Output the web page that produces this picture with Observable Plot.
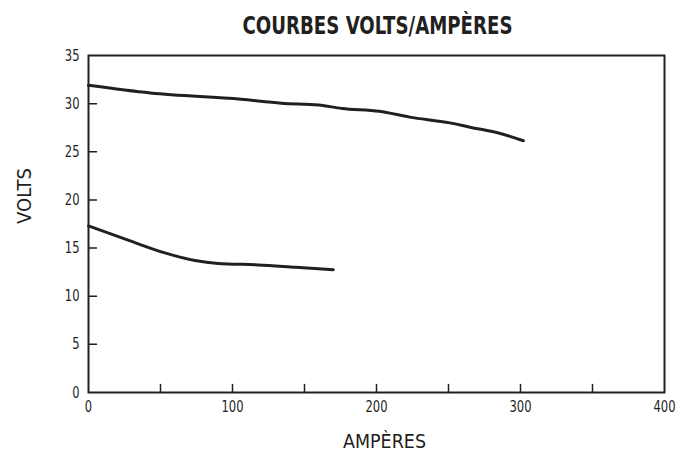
<!DOCTYPE html>
<html>
<head>
<meta charset="utf-8">
<script src="https://cdn.jsdelivr.net/npm/d3@7"></script>
<script src="https://cdn.jsdelivr.net/npm/@observablehq/plot@0.6"></script>
<style>
  html, body { margin: 0; padding: 0; background: #fff; }
  #chart svg { display: block; }
</style>
</head>
<body>
<div id="chart"></div>
<script>
const title = "COURBES VOLTS/AMPÈRES";
const xLabel = "AMPÈRES";
const yLabel = "VOLTS";

// Upper curve
const upperAmps  = [0, 43, 106, 134, 160, 176, 202, 223, 251, 265, 286, 302];
const upperVolts = [31.9, 31.1, 30.45, 30.05, 29.85, 29.5, 29.2, 28.6, 28.0, 27.55, 26.9, 26.15];

// Lower curve
const lowerAmps  = [0, 27, 53, 74, 90, 118, 144, 170];
const lowerVolts = [17.3, 15.85, 14.5, 13.7, 13.4, 13.25, 13.0, 12.75];

const xTickLabels = [0, 100, 200, 300, 400];
const xTickMarks = [50, 100, 150, 200, 250, 300, 350];
const yTickLabels = [0, 5, 10, 15, 20, 25, 30, 35];
const yTickMarks = [5, 10, 15, 20, 25, 30];

const upper = upperAmps.map((a, i) => ({amps: a, volts: upperVolts[i]}));
const lower = lowerAmps.map((a, i) => ({amps: a, volts: lowerVolts[i]}));

const ink = "#231f20";
const font = "'DejaVu Sans Condensed', 'Liberation Sans', sans-serif";

const up = {draw(ctx, l) { ctx.moveTo(0, 0); ctx.lineTo(0, -l); }};
const right = {draw(ctx, l) { ctx.moveTo(0, 0); ctx.lineTo(l, 0); }};

const chart = Plot.plot({
  width: 677,
  height: 451,
  marginTop: 55,
  marginBottom: 59,
  marginLeft: 88,
  marginRight: 13,
  style: {fontFamily: font, fontSize: "16px", color: ink, background: "#fff"},
  x: {domain: [0, 400], label: null},
  y: {domain: [0, 35], label: null},
  marks: [
    Plot.axisX({ticks: xTickLabels, tickSize: 0, tickPadding: 8, label: null, fontSize: 16, className: "xticks"}),
    Plot.axisY({ticks: yTickLabels, tickSize: 0, tickPadding: 9, label: null, fontSize: 16, className: "yticks"}),
    Plot.vector(xTickMarks, {x: d => d, y: 0, length: 8, shape: up, anchor: "start", stroke: ink, strokeWidth: 1.5}),
    Plot.vector(yTickMarks, {x: 0, y: d => d, length: 8, shape: right, anchor: "start", stroke: ink, strokeWidth: 1.5}),
    Plot.frame({stroke: ink, strokeWidth: 2}),
    Plot.line(upper, {x: "amps", y: "volts", stroke: ink, strokeWidth: 3, curve: "monotone-x"}),
    Plot.line(lower, {x: "amps", y: "volts", stroke: ink, strokeWidth: 3, curve: "monotone-x"}),
    Plot.text([title], {frameAnchor: "top", dx: 1, dy: -22, lineAnchor: "bottom", text: d => d, fontWeight: "bold", fontSize: 25, fill: ink, className: "chart-title"}),
    Plot.text([xLabel], {frameAnchor: "bottom", dx: 8, dy: 55, lineAnchor: "bottom", text: d => d, fontSize: 19.5, fill: ink, className: "x-title"}),
    Plot.text([yLabel], {frameAnchor: "left", dx: -58, lineAnchor: "bottom", rotate: -90, text: d => d, fontSize: 20, fill: ink, className: "y-title"})
  ]
});
document.getElementById("chart").appendChild(chart);

// Narrow the labels to match the condensed typeface of the original
function fit(cls, len) {
  chart.querySelectorAll("." + cls + " text").forEach(t => {
    t.setAttribute("textLength", len);
    t.setAttribute("lengthAdjust", "spacingAndGlyphs");
  });
}
function narrow(cls, k) {
  chart.querySelectorAll("." + cls + " text").forEach(t => {
    const w = t.getComputedTextLength();
    t.setAttribute("textLength", (w * k).toFixed(1));
    t.setAttribute("lengthAdjust", "spacingAndGlyphs");
  });
}
fit("chart-title", 270);
fit("x-title", 83);
fit("y-title", 56);
narrow("xticks", 0.8);
narrow("yticks", 0.8);
</script>
</body>
</html>
